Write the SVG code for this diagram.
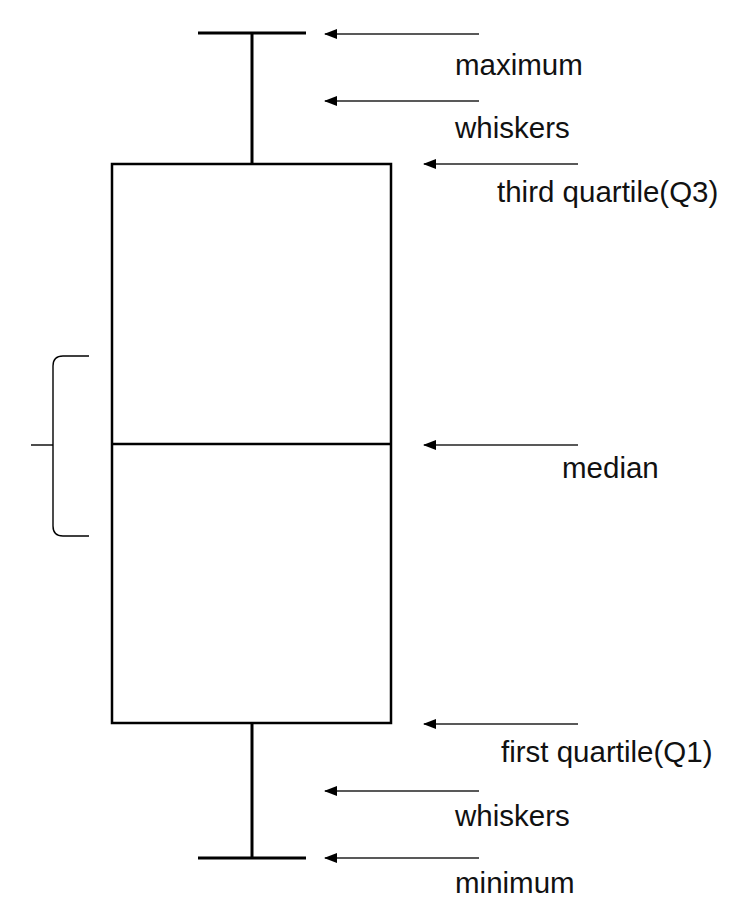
<svg xmlns="http://www.w3.org/2000/svg" width="750" height="920" viewBox="0 0 750 920">
<style>
.thick{stroke:#000;stroke-width:3;fill:none}
.box{stroke:#000;stroke-width:2.5;fill:none}
.thin{stroke:#000;stroke-width:1.4;fill:none}
.arr{stroke:#222;stroke-width:1.4;fill:none;marker-start:url(#ah)}
text{font-family:"Liberation Sans",Arial,sans-serif;font-size:29.5px;fill:#111}
</style>
<defs>
<marker id="ah" markerWidth="14" markerHeight="10" refX="1" refY="5" orient="auto" markerUnits="userSpaceOnUse">
<path d="M0,5 L13,0 L13,10 Z" fill="#000"/>
</marker>
</defs>
<rect width="750" height="920" fill="#fff"/>
<g id="boxplot">
<line class="thick" x1="198" y1="33" x2="306" y2="33"/>
<line class="thick" x1="252" y1="33" x2="252" y2="164"/>
<rect class="box" x="112" y="164" width="279" height="559"/>
<line class="box" x1="112" y1="444" x2="391" y2="444"/>
<line class="thick" x1="252" y1="723" x2="252" y2="858"/>
<line class="thick" x1="198" y1="858" x2="306" y2="858"/>
</g>
<g id="brace">
<path class="thin" d="M89,356 H63 Q53,356 53,366 V526 Q53,536 63,536 H89"/>
<line class="thin" x1="31" y1="445" x2="53" y2="445"/>
</g>
<g id="connectors">
<line class="arr" x1="325" y1="34" x2="479" y2="34"/>
<line class="arr" x1="325" y1="101" x2="479" y2="101"/>
<line class="arr" x1="424" y1="164" x2="578" y2="164"/>
<line class="arr" x1="424" y1="445" x2="578" y2="445"/>
<line class="arr" x1="424" y1="724" x2="578" y2="724"/>
<line class="arr" x1="325" y1="791" x2="479" y2="791"/>
<line class="arr" x1="325" y1="858" x2="479" y2="858"/>
</g>
<g id="labels">
<text x="455" y="75">maximum</text>
<text x="455" y="138">whiskers</text>
<text x="497" y="202">third quartile(Q3)</text>
<text x="562" y="478">median</text>
<text x="501" y="762">first quartile(Q1)</text>
<text x="455" y="826">whiskers</text>
<text x="455" y="893">minimum</text>
</g>
</svg>
